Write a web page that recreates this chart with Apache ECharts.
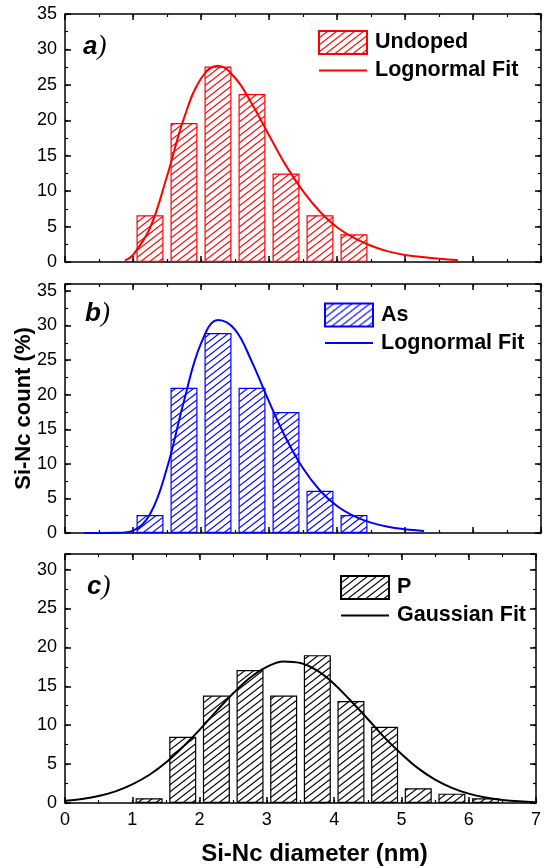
<!DOCTYPE html>
<html>
<head>
<meta charset="utf-8">
<script src="https://cdn.jsdelivr.net/npm/echarts@6/dist/echarts.min.js"></script>
<style>html,body{margin:0;padding:0;background:#fff}#c{width:544px;height:868px}</style>
</head>
<body>
<div id="c"></div>
<script>
// ---------- data ----------
const xTickValues = [0, 1, 2, 3, 4, 5, 6, 7];
const binCentersAB = [1.25, 1.75, 2.25, 2.75, 3.25, 3.75, 4.25];
const undopedCounts = [6.6, 19.6, 27.6, 23.7, 12.5, 6.6, 3.9];
const asCounts = [2.6, 21.0, 28.9, 21.0, 17.5, 6.1, 2.6];
const binCentersP = [1.25, 1.75, 2.25, 2.75, 3.25, 3.75, 4.25, 4.75, 5.25, 5.75, 6.25];
const pCounts = [0.6, 8.5, 13.8, 17.1, 13.8, 19.0, 13.1, 9.8, 1.9, 1.2, 0.6];

const fitUndopedX = [0.88, 1.0, 1.25, 1.5, 1.75, 2.0, 2.25, 2.5, 2.75, 3.0, 3.25, 3.5, 3.75, 4.0, 4.25, 4.5, 4.75, 5.0, 5.25, 5.5, 5.78];
const fitUndopedY = [0.2, 1.0, 4.8, 12.1, 20.3, 25.9, 27.7, 26.0, 22.3, 17.9, 13.6, 10.0, 7.1, 4.9, 3.4, 2.3, 1.5, 1.0, 0.7, 0.45, 0.25];

const fitAsX = [0.28, 0.5, 0.75, 1.0, 1.25, 1.5, 1.75, 2.0, 2.25, 2.5, 2.75, 3.0, 3.25, 3.5, 3.75, 4.0, 4.25, 4.5, 4.75, 5.0, 5.28];
const fitAsY = [0.0, 0.0, 0.02, 0.35, 2.7, 9.4, 19.1, 27.4, 30.8, 29.4, 24.7, 19.0, 13.7, 9.35, 6.15, 3.9, 2.45, 1.5, 0.9, 0.55, 0.3];

const fitPX = [0, 0.25, 0.5, 0.75, 1.0, 1.25, 1.5, 1.75, 2.0, 2.25, 2.5, 2.75, 3.0, 3.25, 3.5, 3.75, 4.0, 4.25, 4.5, 4.75, 5.0, 5.25, 5.5, 5.75, 6.0, 6.25, 6.5, 6.75, 7.0];
const fitPY = [0.28, 0.52, 0.9, 1.5, 2.4, 3.6, 5.2, 7.2, 9.4, 11.8, 14.1, 16.1, 17.5, 18.2, 18.0, 17.0, 15.3, 13.1, 10.8, 8.4, 6.3, 4.45, 3.0, 1.95, 1.2, 0.71, 0.4, 0.21, 0.11];

const yMaxes = [35, 36, 32];
const panelLabels = ['a', 'b', 'c'];
const barNames = ['Undoped', 'As', 'P'];
const fitNames = ['Lognormal Fit a', 'Lognormal Fit b', 'Gaussian Fit'];
const colors = ['#ff0000', '#0000ff', '#000000'];

// ---------- layout ----------
const FONT = '"Liberation Sans", Arial, Helvetica, sans-serif';
const gridTops = [14, 284, 554];
const gridHeights = [248, 249, 249];
const legendPos = [[318, 30], [324, 302.5], [340, 575]];
const labelPos = [[83, 46], [85, 313], [87, 586]];

function hatch(color) {
  const w = 9, h = 7;
  const c = document.createElement('canvas');
  c.width = w; c.height = h;
  const ctx = c.getContext('2d');
  ctx.fillStyle = '#ffffff';
  ctx.fillRect(0, 0, w, h);
  ctx.strokeStyle = color;
  ctx.lineWidth = 1.1;
  [-h, 0, h].forEach(off => {
    ctx.beginPath();
    ctx.moveTo(-1, h + off + h / w);
    ctx.lineTo(w + 1, off - h / w);
    ctx.stroke();
  });
  return { image: c, repeat: 'repeat' };
}

const lineStyleBlack = { color: '#000', width: 1.5 };
const grids = [], xAxes = [], yAxes = [], series = [], legends = [], graphics = [];

for (let gi = 0; gi < 3; gi++) {
  grids.push({ left: 65, right: 3, top: gridTops[gi], height: gridHeights[gi], containLabel: false });
  const isLast = gi === 2;
  ['bottom', 'top'].forEach(pos => {
    xAxes.push({
      gridIndex: gi, type: 'value', min: 0, max: 7, interval: 1, position: pos,
      axisLine: { show: true, onZero: false, lineStyle: lineStyleBlack },
      axisTick: { show: true, inside: true, length: 6, lineStyle: lineStyleBlack },
      axisLabel: {
        show: isLast && pos === 'bottom', fontSize: 18, color: '#000', fontFamily: FONT, margin: 8,
        formatter: v => (xTickValues.indexOf(v) >= 0 ? String(v) : '')
      },
      splitLine: { show: false },
      name: (isLast && pos === 'bottom') ? 'Si-Nc diameter (nm)' : '',
      nameLocation: 'middle', nameGap: 39,
      nameTextStyle: { fontSize: 24, fontWeight: 'bold', color: '#000', fontFamily: FONT, padding: [0, 0, 0, 28] }
    });
    xAxes.push({
      gridIndex: gi, type: 'value', min: 0, max: 7, interval: 0.5, position: pos,
      axisLine: { show: false, onZero: false },
      axisTick: { show: true, inside: true, length: 3, lineStyle: { color: '#000', width: 1.2 } },
      axisLabel: { show: false }, splitLine: { show: false }
    });
  });
  ['left', 'right'].forEach(pos => {
    yAxes.push({
      gridIndex: gi, type: 'value', min: 0, max: yMaxes[gi], interval: 5, position: pos,
      axisLine: { show: true, onZero: false, lineStyle: lineStyleBlack },
      axisTick: { show: true, inside: true, length: 6, lineStyle: lineStyleBlack },
      axisLabel: {
        show: pos === 'left', fontSize: 18, color: '#000', fontFamily: FONT, margin: 8,
        formatter: v => (v % 5 === 0 ? String(v) : '')
      },
      splitLine: { show: false },
      name: (gi === 1 && pos === 'left') ? 'Si-Nc count (%)' : '',
      nameLocation: 'middle', nameGap: 30, nameMoveOverlap: false,
      nameTextStyle: { fontSize: 22, fontWeight: 'bold', color: '#000', fontFamily: FONT }
    });
    yAxes.push({
      gridIndex: gi, type: 'value', min: 0, max: yMaxes[gi], interval: 2.5, position: pos,
      axisLine: { show: false, onZero: false },
      axisTick: { show: true, inside: true, length: 3, lineStyle: { color: '#000', width: 1.2 } },
      axisLabel: { show: false }, splitLine: { show: false }
    });
  });

  const centers = gi === 2 ? binCentersP : binCentersAB;
  const counts = [undopedCounts, asCounts, pCounts][gi];
  const fx = [fitUndopedX, fitAsX, fitPX][gi];
  const fy = [fitUndopedY, fitAsY, fitPY][gi];
  const col = colors[gi];

  series.push({
    name: barNames[gi], type: 'bar', xAxisIndex: gi * 4, yAxisIndex: gi * 4,
    barWidth: 27, z: 2,
    data: centers.map((x, i) => [x, counts[i]]),
    itemStyle: { color: hatch(col), borderColor: col, borderWidth: 1.2 }
  });
  series.push({
    name: fitNames[gi], type: 'line', xAxisIndex: gi * 4, yAxisIndex: gi * 4,
    data: fx.map((x, i) => [x, fy[i]]),
    symbol: 'none', showSymbol: false, smooth: 0.4, z: 3,
    lineStyle: { color: col, width: 2 }, itemStyle: { color: col }
  });

  legends.push({
    left: legendPos[gi][0], top: legendPos[gi][1], orient: 'vertical', padding: 0,
    itemWidth: 48, itemHeight: 23, itemGap: 4.5,
    data: [
      { name: barNames[gi], icon: 'rect' },
      { name: fitNames[gi], itemStyle: { opacity: 0 } }
    ],
    selectedMode: false,
    formatter: n => n.replace(/ [ab]$/, ''),
    textStyle: { fontSize: 21.5, fontWeight: 'bold', color: '#000', fontFamily: FONT, padding: [0, 0, 0, 3] }
  });

  graphics.push({
    type: 'text', left: labelPos[gi][0], top: labelPos[gi][1] - 13,
    style: {
      text: '{l|' + panelLabels[gi] + '}{p|)}',
      rich: {
        l: { fontSize: 26, fontWeight: 'bold', fontStyle: 'italic', fontFamily: FONT, fill: '#000' },
        p: { fontSize: 27, fontStyle: 'italic', fontFamily: '"Liberation Serif", "Times New Roman", serif', fill: '#000' }
      }
    }
  });
}

const chart = echarts.init(document.getElementById('c'), null, { renderer: 'canvas' });
chart.setOption({
  animation: false,
  backgroundColor: '#fff',
  grid: grids, xAxis: xAxes, yAxis: yAxes,
  legend: legends, series: series, graphic: graphics
});
</script>
</body>
</html>
